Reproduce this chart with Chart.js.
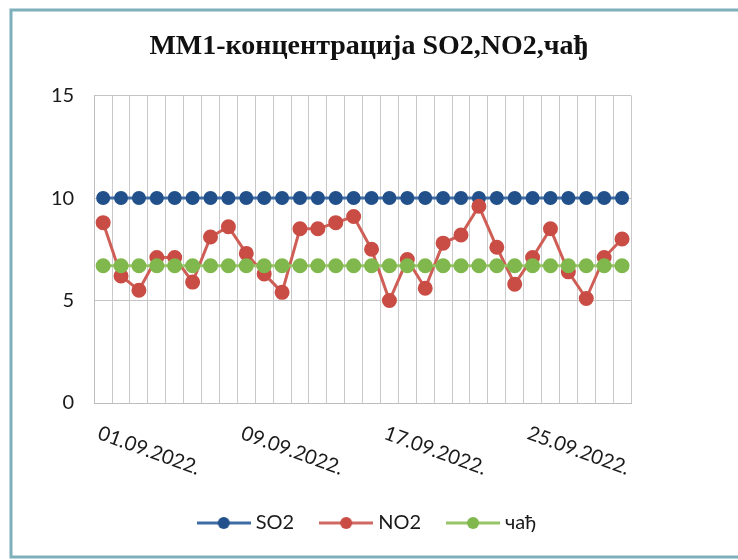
<!DOCTYPE html>
<html>
<head>
<meta charset="utf-8">
<script src="https://cdn.jsdelivr.net/npm/chart.js@4"></script>
<style>
  html, body { margin: 0; padding: 0; background: #fff; }
  #wrap { width: 738px; height: 560px; }
</style>
</head>
<body>
<div id="wrap"><canvas id="mm1-chart" width="738" height="560"></canvas></div>
<script>
const dates = [
  '01.09.2022.', '02.09.2022.', '03.09.2022.', '04.09.2022.', '05.09.2022.',
  '06.09.2022.', '07.09.2022.', '08.09.2022.', '09.09.2022.', '10.09.2022.',
  '11.09.2022.', '12.09.2022.', '13.09.2022.', '14.09.2022.', '15.09.2022.',
  '16.09.2022.', '17.09.2022.', '18.09.2022.', '19.09.2022.', '20.09.2022.',
  '21.09.2022.', '22.09.2022.', '23.09.2022.', '24.09.2022.', '25.09.2022.',
  '26.09.2022.', '27.09.2022.', '28.09.2022.', '29.09.2022.', '30.09.2022.',
];
const so2 = [10, 10, 10, 10, 10, 10, 10, 10, 10, 10, 10, 10, 10, 10, 10,
  10, 10, 10, 10, 10, 10, 10, 10, 10, 10, 10, 10, 10, 10, 10];
const no2 = [8.8, 6.2, 5.5, 7.1, 7.1, 5.9, 8.1, 8.6, 7.3, 6.3, 5.4, 8.5, 8.5, 8.8, 9.1,
  7.5, 5.0, 7.0, 5.6, 7.8, 8.2, 9.6, 7.6, 5.8, 7.1, 8.5, 6.4, 5.1, 7.1, 8.0];
const soot = [6.7, 6.7, 6.7, 6.7, 6.7, 6.7, 6.7, 6.7, 6.7, 6.7, 6.7, 6.7, 6.7, 6.7, 6.7,
  6.7, 6.7, 6.7, 6.7, 6.7, 6.7, 6.7, 6.7, 6.7, 6.7, 6.7, 6.7, 6.7, 6.7, 6.7];
const yTicks = [0, 5, 10, 15];
const labelEvery = 8;

// legend marker: short line with a dot in the middle
function legendIcon(lineColor, dotColor) {
  const c = document.createElement('canvas');
  c.width = 54;
  c.height = 14;
  const g = c.getContext('2d');
  g.strokeStyle = lineColor;
  g.lineWidth = 3;
  g.beginPath();
  g.moveTo(0, 7);
  g.lineTo(54, 7);
  g.stroke();
  g.fillStyle = dotColor;
  g.beginPath();
  g.arc(27, 7, 6, 0, Math.PI * 2);
  g.fill();
  return c;
}

const frame = {
  id: 'frame',
  beforeDraw(chart) {
    const ctx = chart.ctx;
    ctx.save();
    ctx.fillStyle = '#fff';
    ctx.fillRect(0, 0, chart.width, chart.height);
    ctx.strokeStyle = '#7eb0bb';
    ctx.lineWidth = 3;
    ctx.beginPath();
    ctx.moveTo(chart.width, 10);
    ctx.lineTo(11, 10);
    ctx.lineTo(11, 557);
    ctx.lineTo(chart.width, 557);
    ctx.stroke();
    ctx.restore();
  },
};

// slanted date labels, every 8th day
const dateLabels = {
  id: 'dateLabels',
  afterDraw(chart) {
    const ctx = chart.ctx;
    const x = chart.scales.x;
    const top = chart.chartArea.bottom + 20;
    ctx.save();
    ctx.font = '20px Lato';
    ctx.fillStyle = '#1a1a1a';
    ctx.textAlign = 'left';
    ctx.textBaseline = 'top';
    dates.forEach((d, i) => {
      if (i % labelEvery !== 0) return;
      ctx.save();
      ctx.translate(x.getPixelForValue(i) - 1, top);
      ctx.rotate(20 * Math.PI / 180);
      ctx.fillText(d, 0, 0);
      ctx.restore();
    });
    ctx.restore();
  },
};

new Chart(document.getElementById('mm1-chart'), {
  type: 'line',
  data: {
    labels: dates,
    datasets: [
      {
        label: 'SO2',
        data: so2,
        borderColor: '#3f6ca4',
        backgroundColor: '#21508a',
        pointBackgroundColor: '#21508a',
        pointBorderColor: '#21508a',
        borderWidth: 3,
        pointRadius: 5.5,
        order: 3,
        icon: legendIcon('#3f6ca4', '#21508a'),
      },
      {
        label: 'NO2',
        data: no2,
        borderColor: '#cf5e57',
        backgroundColor: '#c94c45',
        pointBackgroundColor: '#c94c45',
        pointBorderColor: '#c94c45',
        borderWidth: 3,
        pointRadius: 6,
        order: 2,
        icon: legendIcon('#cf6a63', '#c94c45'),
      },
      {
        label: 'чађ',
        data: soot,
        borderColor: '#97c466',
        backgroundColor: '#80b84e',
        pointBackgroundColor: '#80b84e',
        pointBorderColor: '#80b84e',
        borderWidth: 3,
        pointRadius: 6,
        order: 1,
        icon: legendIcon('#97c466', '#80b84e'),
      },
    ],
  },
  options: {
    responsive: false,
    animation: false,
    layout: { padding: { left: 31, right: 31, top: 8, bottom: 17 } },
    plugins: {
      tooltip: { enabled: false },
      title: {
        display: true,
        text: 'ММ1-концентрација SO2,NO2,чађ',
        color: '#111',
        font: { family: 'Liberation Serif', size: 28, weight: 'bold' },
        padding: { top: 22, bottom: 32 },
      },
      legend: {
        position: 'bottom',
        labels: {
          usePointStyle: true,
          pointStyleWidth: 44,
          padding: 30,
          color: '#1a1a1a',
          font: { family: 'Lato', size: 20 },
          generateLabels: (chart) => chart.data.datasets.map((ds, i) => ({
            text: ds.label,
            pointStyle: ds.icon,
            fillStyle: ds.backgroundColor,
            strokeStyle: ds.borderColor,
            lineWidth: 0,
            fontColor: '#1a1a1a',
            datasetIndex: i,
          })),
        },
      },
    },
    scales: {
      x: {
        offset: true,
        grid: { offset: true, color: '#c9c9c9', lineWidth: 1, drawTicks: false },
        border: { color: '#bdbdbd' },
        ticks: { display: false },
        afterFit: (s) => { s.height = 80; },
      },
      y: {
        min: 0,
        max: 15,
        afterBuildTicks: (s) => { s.ticks = yTicks.map((v) => ({ value: v })); },
        grid: { color: '#c4c4c4', lineWidth: 1, drawTicks: false },
        border: { color: '#bdbdbd' },
        ticks: {
          padding: 20,
          color: '#1a1a1a',
          font: { family: 'Lato', size: 20 },
        },
      },
      // empty right-hand space, as in the original layout
      yRight: {
        type: 'linear',
        position: 'right',
        grid: { display: false },
        border: { display: false },
        ticks: { display: false },
        afterFit: (s) => { s.width = 76; },
      },
    },
  },
  plugins: [frame, dateLabels],
});
</script>
</body>
</html>
